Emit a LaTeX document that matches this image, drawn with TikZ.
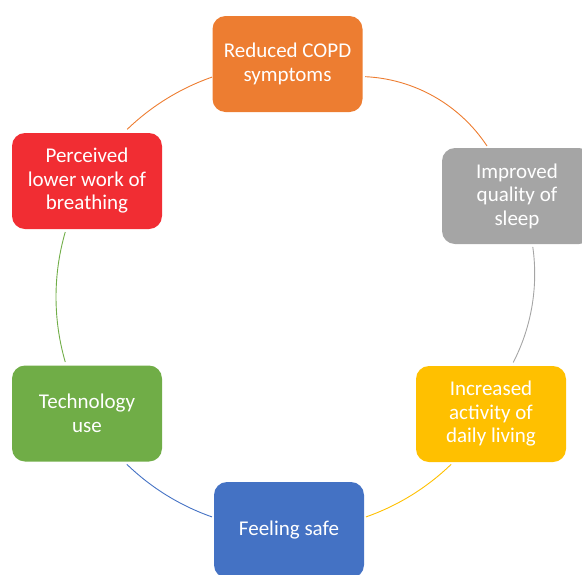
\documentclass[tikz,border=0pt]{standalone}
\usepackage{fontspec}
\setmainfont{Carlito}
\definecolor{cOrange}{HTML}{ED7D31}
\definecolor{cGray}{HTML}{A5A5A5}
\definecolor{cYellow}{HTML}{FFC000}
\definecolor{cBlue}{HTML}{4472C4}
\definecolor{cGreen}{HTML}{70AD47}
\definecolor{cRed}{HTML}{F12D33}
\begin{document}
\begin{tikzpicture}[x=1pt,y=1pt,
  cbox/.style={rounded corners=13pt, minimum width=150pt, minimum height=96pt,
    inner sep=0pt, text=white, align=center, font=\fontsize{21}{23.5}\selectfont},
  arcline/.style={line width=0.9pt}]
\useasboundingbox (0,0) rectangle (582,-574);
\clip (0,0) rectangle (582,-574);
\coordinate (c) at (289,-297);
\coordinate (cg) at (341.7,-274);
\coordinate (co) at (358,-231);
% arcs
\draw[arcline, cOrange] ([shift={(134:233)}]c) arc[start angle=134, end angle=109.3, radius=233];
\draw[arcline, cOrange] ([shift={(87.4:154.5)}]co) arc[start angle=87.4, end angle=33.4, radius=154.5];
\draw[arcline, cGray] ([shift={(8.1:193)}]cg) arc[start angle=8.1, end angle=-27.3, radius=193];
\draw[arcline, cYellow] ([shift={(314.1:233)}]c) arc[start angle=314.1, end angle=289.3, radius=233];
\draw[arcline, cBlue] ([shift={(250.7:233)}]c) arc[start angle=250.7, end angle=225.9, radius=233];
\draw[arcline, cGreen] ([shift={(196.2:233)}]c) arc[start angle=196.2, end angle=163.8, radius=233];
% boxes
\node[cbox, fill=cOrange] (top) at (287.5,-64) {Reduced COPD\\symptoms};
\node[cbox, fill=cGray] (sleep) at (517,-196) {Improved\\quality of\\sleep};
\node[cbox, fill=cYellow] (activity) at (491,-414) {Increased\\activity of\\daily living};
\node[cbox, fill=cBlue] (safe) at (289,-530) {Feeling safe};
\node[cbox, fill=cGreen] (tech) at (87,-413.5) {Technology\\use};
\node[cbox, fill=cRed] (breath) at (87,-181) {Perceived\\lower work of\\breathing};
\end{tikzpicture}
\end{document}
